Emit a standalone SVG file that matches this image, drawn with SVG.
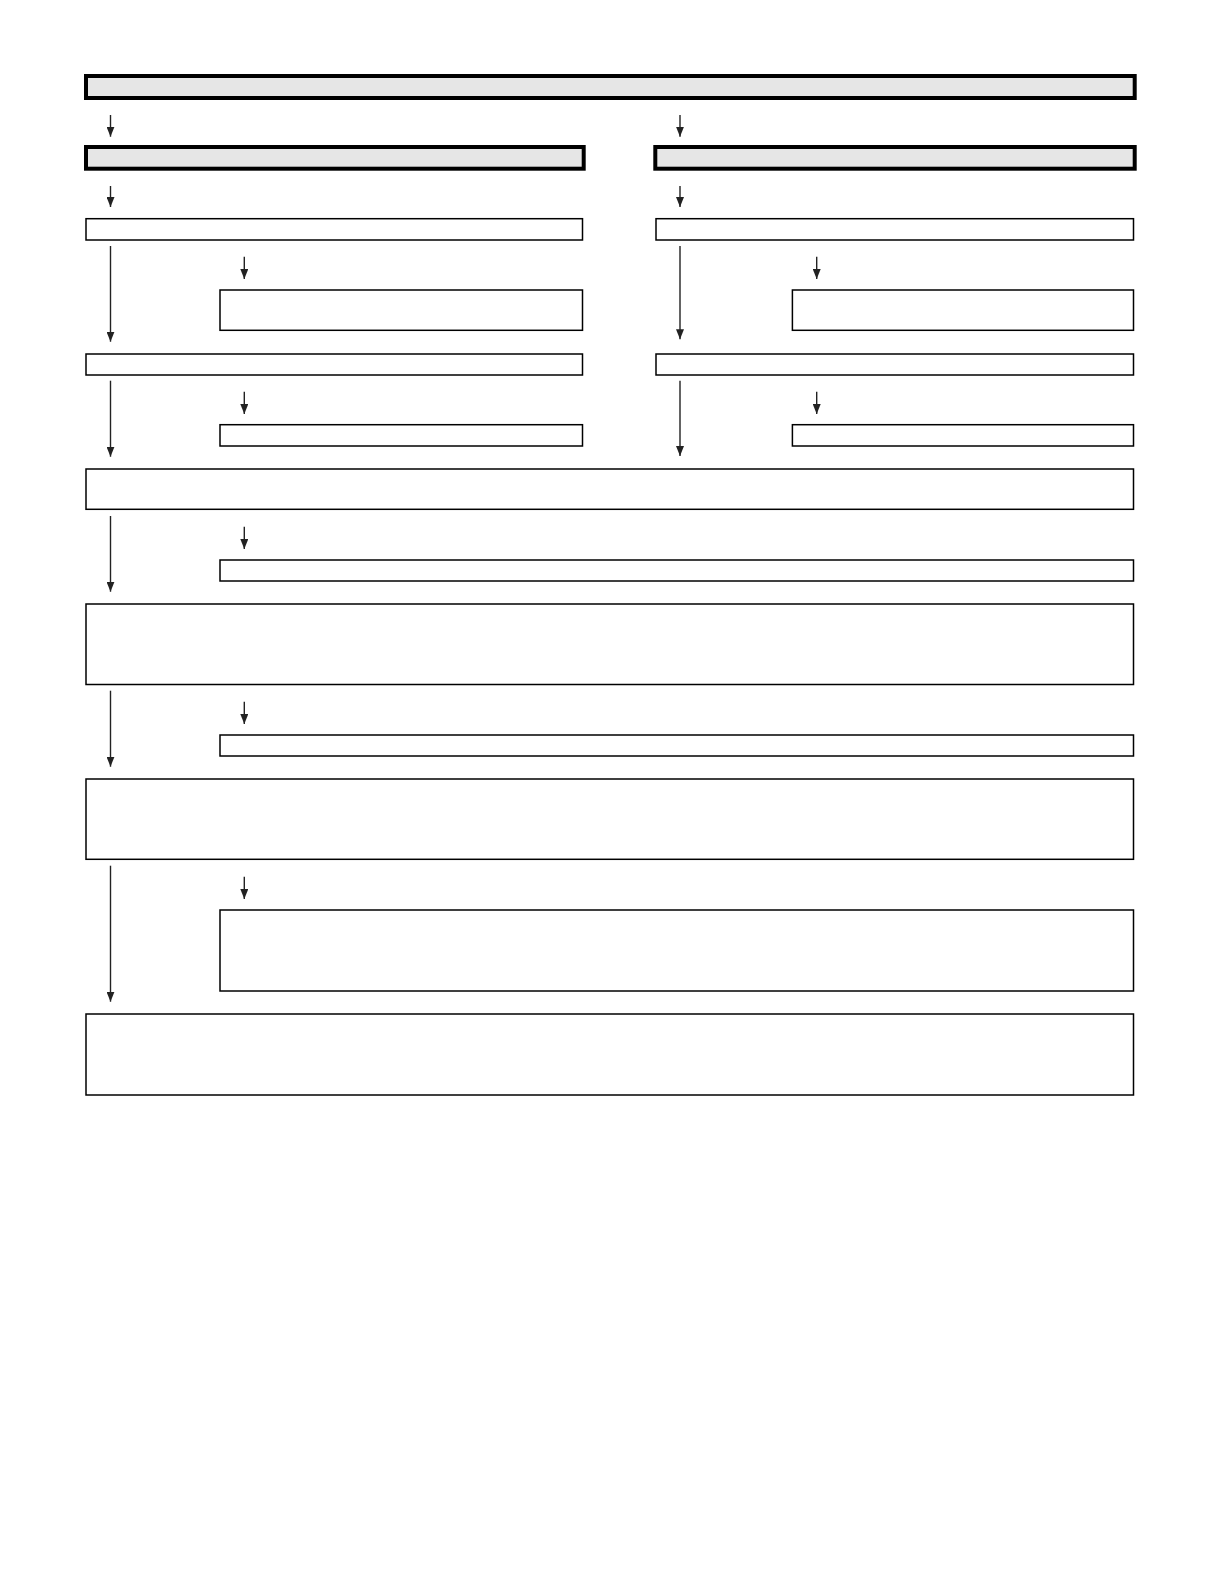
<svg xmlns="http://www.w3.org/2000/svg" width="1220" height="1588" viewBox="0 0 1220 1588">
  <style>
    .thick { fill: #e6e6e6; stroke: #000; stroke-width: 4; }
    .box { fill: #fff; stroke: #000; stroke-width: 1.5; }
    .conn { stroke: #222; stroke-width: 1.4; fill: none; marker-end: url(#arrow); }
  </style>
  <defs>
    <marker id="arrow" markerUnits="userSpaceOnUse" markerWidth="10" markerHeight="8" refX="10" refY="4" orient="auto">
      <path d="M0,0 L10,4 L0,8 Z" fill="#222"/>
    </marker>
  </defs>
  <rect width="1220" height="1588" fill="#fff"/>

  <g id="nodes">
    <g id="n-top"><rect class="thick" x="86" y="76" width="1048.7" height="22"/></g>
    <g id="n-left-head"><rect class="thick" x="86" y="147" width="497.7" height="21.7"/></g>
    <g id="n-right-head"><rect class="thick" x="655.3" y="147" width="479.4" height="21.7"/></g>

    <g id="n-l1"><rect class="box" x="86" y="218.7" width="496.5" height="21.3"/></g>
    <g id="n-r1"><rect class="box" x="656" y="218.7" width="477.5" height="21.3"/></g>

    <g id="n-l1a"><rect class="box" x="220" y="290" width="362.5" height="40.3"/></g>
    <g id="n-r1a"><rect class="box" x="792.4" y="290" width="341.1" height="40.3"/></g>

    <g id="n-l2"><rect class="box" x="86" y="354" width="496.5" height="21"/></g>
    <g id="n-r2"><rect class="box" x="656" y="354" width="477.5" height="21"/></g>

    <g id="n-l2a"><rect class="box" x="220" y="424.7" width="362.5" height="21.3"/></g>
    <g id="n-r2a"><rect class="box" x="792.4" y="424.7" width="341.1" height="21.3"/></g>

    <g id="n-3"><rect class="box" x="86" y="469" width="1047.5" height="40.3"/></g>
    <g id="n-3a"><rect class="box" x="220" y="560" width="913.5" height="21"/></g>
    <g id="n-4"><rect class="box" x="86" y="604" width="1047.5" height="80.5"/></g>
    <g id="n-4a"><rect class="box" x="220" y="735" width="913.5" height="21"/></g>
    <g id="n-5"><rect class="box" x="86" y="779" width="1047.5" height="80.3"/></g>
    <g id="n-5a"><rect class="box" x="220" y="910" width="913.5" height="81"/></g>
    <g id="n-6"><rect class="box" x="86" y="1014" width="1047.5" height="81"/></g>
  </g>

  <g id="connectors">
    <line class="conn" x1="110.5" y1="115" x2="110.5" y2="136.7"/>
    <line class="conn" x1="680" y1="115" x2="680" y2="136.7"/>
    <line class="conn" x1="110.5" y1="186" x2="110.5" y2="207"/>
    <line class="conn" x1="680" y1="186" x2="680" y2="207"/>

    <line class="conn" x1="110.5" y1="246" x2="110.5" y2="341.7"/>
    <line class="conn" x1="680" y1="246" x2="680" y2="339.3"/>
    <line class="conn" x1="244.3" y1="256.7" x2="244.3" y2="279"/>
    <line class="conn" x1="816.7" y1="256.7" x2="816.7" y2="279"/>

    <line class="conn" x1="110.5" y1="380.7" x2="110.5" y2="456.7"/>
    <line class="conn" x1="680" y1="380.7" x2="680" y2="456"/>
    <line class="conn" x1="244.3" y1="391.7" x2="244.3" y2="414"/>
    <line class="conn" x1="816.7" y1="391.7" x2="816.7" y2="414"/>

    <line class="conn" x1="110.5" y1="516" x2="110.5" y2="591.7"/>
    <line class="conn" x1="244.3" y1="526.7" x2="244.3" y2="549"/>

    <line class="conn" x1="110.5" y1="690.7" x2="110.5" y2="766.7"/>
    <line class="conn" x1="244.3" y1="701.7" x2="244.3" y2="724"/>

    <line class="conn" x1="110.5" y1="865.7" x2="110.5" y2="1001.7"/>
    <line class="conn" x1="244.3" y1="876.7" x2="244.3" y2="899"/>
  </g>
</svg>
